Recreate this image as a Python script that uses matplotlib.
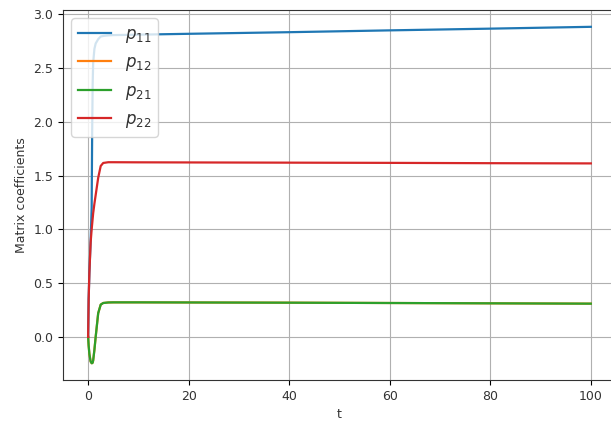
import matplotlib
matplotlib.use("Agg")
import matplotlib.pyplot as plt

# Time samples (denser during the initial transient)
t = [0, 0.1, 0.25, 0.5, 0.7, 0.8, 0.9, 1.0, 1.25, 1.5, 2.0, 2.5, 3.0,
     4.0, 5.0, 10, 20, 40, 60, 80, 100]

# Riccati matrix coefficients
p11 = [0.0, 0.35, 0.6, 0.9, 1.2, 1.9, 2.35, 2.55, 2.68, 2.73, 2.77, 2.795, 2.80,
       2.805, 2.808, 2.812, 2.82, 2.835, 2.852, 2.868, 2.885]
p12 = [0.0, -0.08, -0.16, -0.23, -0.245, -0.245, -0.24, -0.22, -0.12, 0.0, 0.22,
       0.3, 0.315, 0.32, 0.321, 0.321, 0.32, 0.318, 0.315, 0.312, 0.309]
p21 = [0.0, -0.08, -0.16, -0.23, -0.245, -0.245, -0.24, -0.22, -0.12, 0.0, 0.22,
       0.3, 0.315, 0.32, 0.321, 0.321, 0.32, 0.318, 0.315, 0.312, 0.309]
p22 = [0.0, 0.35, 0.6, 0.88, 1.0, 1.05, 1.1, 1.15, 1.24, 1.32, 1.48, 1.59, 1.618,
       1.625, 1.625, 1.624, 1.623, 1.621, 1.619, 1.616, 1.614]

series = [("$p_{11}$", p11), ("$p_{12}$", p12), ("$p_{21}$", p21), ("$p_{22}$", p22)]

plt.rcParams["font.size"] = 9
plt.rcParams["text.color"] = "#333333"
plt.rcParams["axes.labelcolor"] = "#333333"
plt.rcParams["xtick.labelcolor"] = "#333333"
plt.rcParams["ytick.labelcolor"] = "#333333"
plt.rcParams["axes.edgecolor"] = "#333333"

fig = plt.figure(figsize=(6.11, 4.23), dpi=100)
ax = fig.add_axes([63 / 611, 43 / 423, 553 / 611, 370 / 423])

for label, vals in series:
    ax.plot(t, vals, label=label, lw=1.6)

ax.grid(True)
ax.set_xlabel("t")
ax.set_ylabel("Matrix coefficients")
ax.set_yticks([0.0, 0.5, 1.0, 1.5, 2.0, 2.5, 3.0])
ax.legend(loc="upper left", fontsize=12)

fig.savefig("out.png", dpi=100)
